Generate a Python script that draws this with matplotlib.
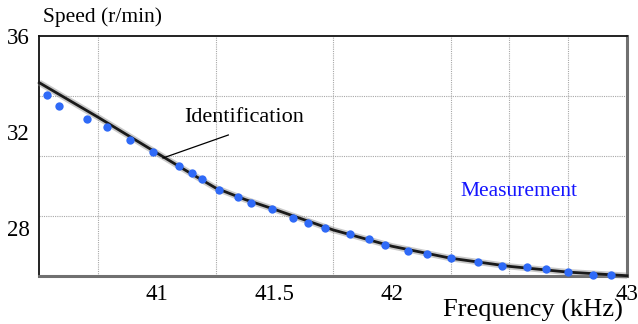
import matplotlib
matplotlib.use('Agg')
import matplotlib.pyplot as plt
import numpy as np

plt.rcParams['font.family'] = ['Liberation Serif', 'DejaVu Serif']

# measured points (kHz, r/min)
freq_meas = [40.531, 40.584, 40.702, 40.789, 40.887, 40.985, 41.096, 41.150, 41.194,
             41.263, 41.347, 41.401, 41.490, 41.578, 41.642, 41.717, 41.821, 41.902,
             41.972, 42.069, 42.151, 42.253, 42.364, 42.470, 42.574, 42.657, 42.750,
             42.857, 42.930]
speed_meas = [33.54, 33.09, 32.54, 32.20, 31.67, 31.16, 30.59, 30.28, 30.03,
              29.59, 29.30, 29.03, 28.80, 28.42, 28.21, 27.99, 27.74, 27.52,
              27.29, 27.03, 26.89, 26.73, 26.57, 26.42, 26.38, 26.27, 26.17,
              26.03, 26.02]

# identified curve
freq_ident = [40.5, 40.75, 41.0, 41.125, 41.25, 41.375, 41.5, 41.75, 42.0, 42.25, 42.5, 42.75, 43.0]
speed_ident = [34.05, 32.61, 31.12, 30.38, 29.66, 29.18, 28.77, 27.91, 27.23, 26.73, 26.39, 26.15, 26.0]

x_ticks = [41, 41.5, 42, 43]
x_ticklabels = ['41', '41.5', '42', '43']
y_ticks = [28, 32, 36]
x_grid = [40.75, 41.0, 41.25, 41.5, 41.75, 42.0, 42.25, 42.5, 42.75]
y_grid = [28.5, 31.0, 33.5]

fig = plt.figure(figsize=(6.38, 3.24), dpi=100)
ax = fig.add_axes([0.0616, 0.149, 0.9212, 0.74])

ax.set_xlim(40.5, 43)
ax.set_ylim(26, 36)

# grid on minor ticks
ax.set_xticks(x_grid, minor=True)
ax.set_yticks(y_grid, minor=True)
ax.grid(which='minor', color='#a8a8a8', linestyle=(0, (1, 1)), linewidth=0.8)
ax.set_xticks(x_ticks)
ax.set_xticklabels(x_ticklabels)
ax.set_yticks(y_ticks)
ax.tick_params(which='both', length=0)
ax.tick_params(axis='x', labelsize=16.5, pad=6)
ax.tick_params(axis='y', labelsize=16.5, pad=7)

# curve with a soft grey shadow
ax.plot(freq_ident, speed_ident, color='#888888', lw=4.5, alpha=0.45, clip_on=False,
        solid_capstyle='butt', zorder=3)
ax.plot(freq_ident, speed_ident, color='#1a1a1a', lw=2.0, clip_on=False, zorder=4)
ax.plot(freq_meas, speed_meas, 'o', color='#2f6af7', ms=6, mec='none',
        clip_on=False, zorder=5)

# leader line + labels
ax.plot([41.304, 41.026], [31.87, 30.91], color='black', lw=0.9, zorder=4)
ax.text(41.372, 32.60, 'Identification', fontsize=16, ha='center', va='center')
ax.text(42.541, 29.51, 'Measurement', fontsize=15.5, color='#1515ff', ha='center', va='center')

for side in ['left', 'top']:
    ax.spines[side].set_color('#111111')
    ax.spines[side].set_linewidth(1.3)
for side in ['right', 'bottom']:
    ax.spines[side].set_color('#707070')
    ax.spines[side].set_linewidth(2.2)

fig.text(0.0674, 0.947, 'Speed (r/min)', fontsize=15.5, ha='left', va='center')
fig.text(0.835, 0.022, 'Frequency (kHz)', fontsize=19, ha='center', va='baseline')

fig.savefig('out.png', dpi=100)
